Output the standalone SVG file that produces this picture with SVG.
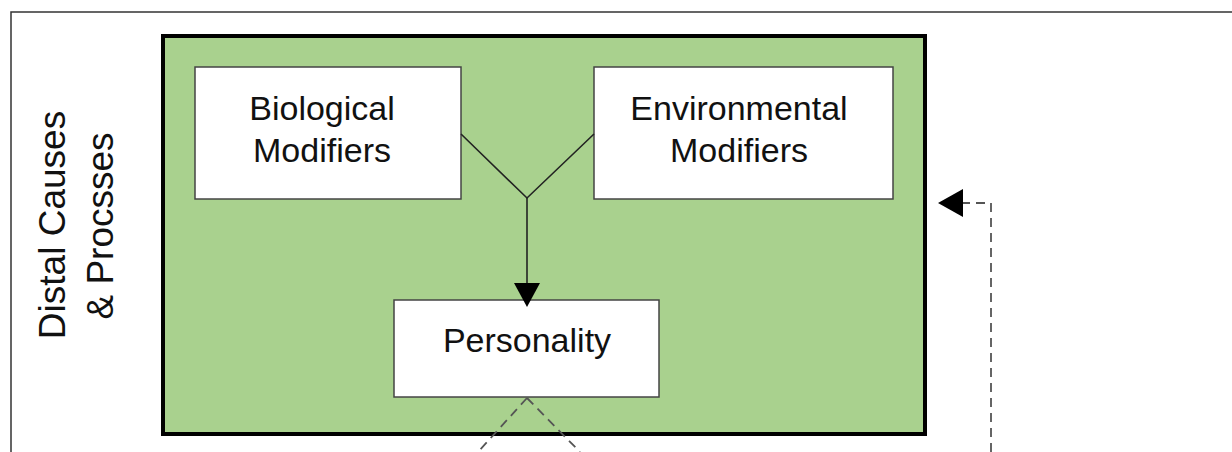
<svg xmlns="http://www.w3.org/2000/svg" width="1232" height="452" viewBox="0 0 1232 452">
<defs>
<style>
.t{font-family:"Liberation Sans",Arial,sans-serif;font-size:34px;fill:#111;text-anchor:middle}
.r{font-size:37px}
.box{fill:#fff;stroke:#444;stroke-width:1.5}
.ln{stroke:#222;stroke-width:1.6;fill:none}
.dash{stroke:#555;stroke-width:1.8;fill:none;stroke-dasharray:9,6}
</style>
</defs>
<rect width="1232" height="452" fill="#fff"/>
<path d="M11,452 V12 H1232" fill="none" stroke="#333" stroke-width="1.5"/>
<g id="distal">
<rect x="163" y="36" width="762" height="398" fill="#a9d18e" stroke="#000" stroke-width="4"/>
</g>
<g id="label">
<text class="t r" transform="translate(65,225) rotate(-90)">Distal Causes</text>
<text class="t r" transform="translate(113,226) rotate(-90)">&amp; Procsses</text>
</g>
<g id="bio">
<rect class="box" x="195" y="67" width="266" height="132"/>
<text class="t" x="322" y="120">Biological</text>
<text class="t" x="322" y="162">Modifiers</text>
</g>
<g id="env">
<rect class="box" x="594" y="67" width="299" height="132"/>
<text class="t" x="739" y="120">Environmental</text>
<text class="t" x="739" y="162">Modifiers</text>
</g>
<g id="pers">
<rect class="box" x="394" y="300" width="265" height="97"/>
<text class="t" x="527" y="352">Personality</text>
</g>
<g id="connectors">
<path class="ln" d="M461,134 L527,198 L594,134"/>
<line class="ln" x1="527" y1="198" x2="527" y2="284"/>
<path d="M514,283 L540,283 L527,307 z" fill="#000"/>
<path class="dash" d="M527,398 L478,452"/>
<path class="dash" d="M527,398 L580,452"/>
<path class="dash" d="M991,452 V203 H962"/>
<path d="M963,189 L963,217 L938,203 z" fill="#000"/>
</g>
</svg>
